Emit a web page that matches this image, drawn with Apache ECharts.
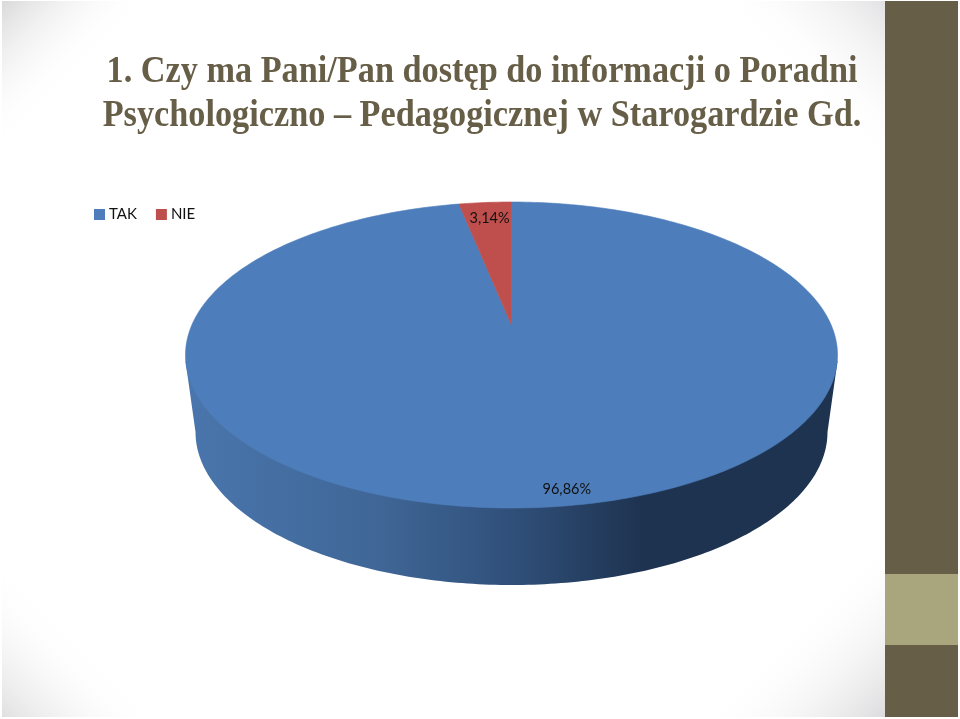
<!DOCTYPE html>
<html><head><meta charset="utf-8">
<style>html,body{margin:0;padding:0;background:#fff}#c{width:960px;height:719px}</style>
<script src="https://cdn.jsdelivr.net/npm/echarts@6/dist/echarts.min.js"></script>
</head><body><div id="c"></div>
<script>
var categories = ['TAK', 'NIE'];
var values = [96.86, 3.14];
var valueLabels = ['96,86%', '3,14%'];
var colors = ['#4D7DBA', '#BE4F4C'];
var titleLines = ['1. Czy ma Pani/Pan dostęp do informacji o Poradni', 'Psychologiczno – Pedagogicznej w Starogardzie Gd.'];

// layout of the tilted disc
var CX = 511.5, CY = 355, RX = 326, RY = 153, TILT = 0.196;
var BX = 316, BCY = 432, BRY = 153;
var labelR = [0.92, 0.85], labelDx = [20, 1];
var total = values.reduce(function (a, b) { return a + b; }, 0);

function project(r, deg) {
  var t = deg * Math.PI / 180, u = r * Math.sin(t), v = r * Math.cos(t), d = 1 + TILT * v;
  return [CX + RX * Math.sqrt(1 - TILT * TILT) * u / d, CY - RY * (v + TILT) / d];
}
function sector(a0, a1) {
  var pts = [project(0, 0)], n = Math.max(2, Math.ceil((a1 - a0) / 1));
  for (var i = 0; i <= n; i++) pts.push(project(1, a0 + (a1 - a0) * i / n));
  return pts;
}
function sidePoints() {
  var pts = [[CX - RX, CY + 6]];
  for (var i = 0; i <= 180; i++) {
    var t = Math.PI - i * Math.PI / 180;
    pts.push([CX + BX * Math.cos(t), BCY + BRY * Math.sin(t)]);
  }
  pts.push([CX + RX, CY + 6]);
  return pts;
}
function startOf(idx) {
  var s = 0; for (var i = 0; i < idx; i++) s += values[i];
  return s / total * 360;
}
function makeRender(idx) {
  return function (params, api) {
    var a0 = startOf(idx), a1 = a0 + api.value(0) / total * 360;
    var children = [];
    if (idx === 0) {
      children.push({
        type: 'polygon', shape: { points: sidePoints() },
        style: { fill: new echarts.graphic.LinearGradient(0, 0, 1, 0, [
          { offset: 0, color: '#4A76AD' },
          { offset: 0.3, color: '#3F6696' },
          { offset: 0.5, color: '#30507A' },
          { offset: 0.7, color: '#1E3350' },
          { offset: 1, color: '#1D3350' }
        ]) }
      });
    }
    children.push({ type: 'polygon', shape: { points: sector(a0, a1) }, style: { fill: colors[idx], stroke: colors[idx], lineWidth: 0.6 } });
    var lp = project(labelR[idx], (a0 + a1) / 2);
    children.push({
      type: 'text', x: lp[0] + labelDx[idx], y: lp[1],
      style: { text: valueLabels[idx], font: '14.5px Lato', fill: '#111', align: 'center', verticalAlign: 'middle' }
    });
    return { type: 'group', children: children };
  };
}
function cornerFade(x, y, sx, sy, size, color) {
  var gx0 = sx > 0 ? 0 : 1, gy0 = sy > 0 ? 0 : 1;
  return {
    type: 'polygon', z: -9,
    shape: { points: [[x, y], [x + sx * size, y], [x, y + sy * size]] },
    style: { fill: new echarts.graphic.LinearGradient(gx0, gy0, 0.5, 0.5, [
      { offset: 0, color: color }, { offset: 1, color: 'rgba(255,255,255,0)' }
    ]) }
  };
}
function titleText(line, y) {
  return {
    type: 'text', z: 5, x: 482, y: y, scaleX: 0.926,
    style: { text: line, font: 'bold 37px "Liberation Serif"', fill: '#675E47', align: 'center', verticalAlign: 'top' }
  };
}

var W = 960, H = 719;
var option = {
  animation: false,
  backgroundColor: '#fff',
  legend: {
    data: categories, left: 89, top: 202, itemWidth: 11, itemHeight: 11, itemGap: 19, icon: 'rect',
    textStyle: { fontFamily: 'Lato', fontSize: 15, color: '#111', padding: [0, 0, 0, -1] }
  },
  graphic: { elements: [
    cornerFade(2, 1, 1, 1, 150, '#D9D9D9'),
    cornerFade(885, 1, -1, 1, 170, '#E2E2E4'),
    cornerFade(885, 717, -1, -1, 190, '#DCDCDE'),
    cornerFade(2, 717, 1, -1, 160, '#E0E0E0'),
    { type: 'rect', z: -8, shape: { x: 885, y: 1, width: 73, height: 573 }, style: { fill: '#675E47' } },
    { type: 'rect', z: -8, shape: { x: 885, y: 574, width: 73, height: 71 }, style: { fill: '#A9A57C' } },
    { type: 'rect', z: -8, shape: { x: 885, y: 645, width: 73, height: 72 }, style: { fill: '#675E47' } },
    titleText(titleLines[0], 54),
    titleText(titleLines[1], 98)
  ] },
  series: categories.map(function (name, i) {
    return {
      type: 'custom', name: name, coordinateSystem: 'none',
      itemStyle: { color: colors[i] },
      renderItem: makeRender(i),
      data: [[values[i]]],
      silent: true
    };
  })
};
var chart = echarts.init(document.getElementById('c'), null, { width: W, height: H, renderer: 'canvas' });
chart.setOption(option);
</script></body></html>
